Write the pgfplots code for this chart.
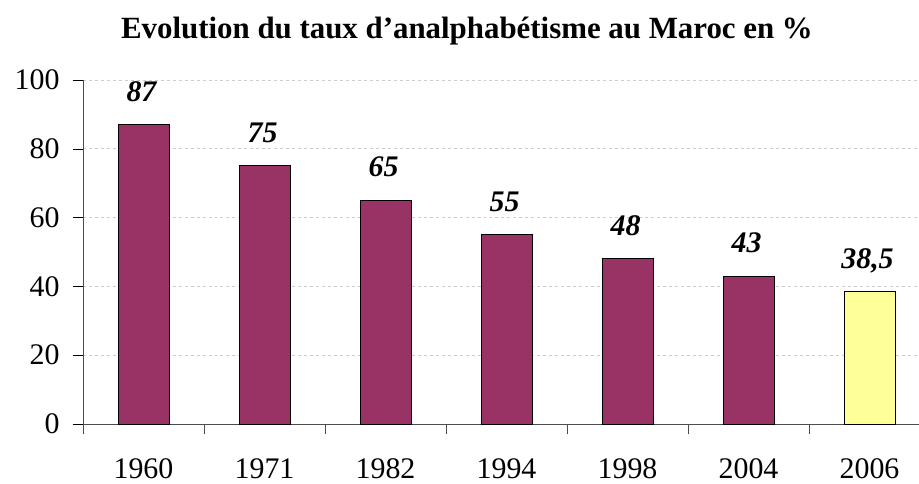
\documentclass[border=0pt]{standalone}
\usepackage{fontspec}
\setmainfont{Liberation Serif}
\usepackage{pgfplots}
\pgfplotsset{compat=1.18}
\definecolor{barpurple}{HTML}{993366}
\definecolor{baryellow}{HTML}{FFFF99}
\begin{document}
\begin{tikzpicture}
\useasboundingbox (-83bp,-60bp) rectangle (836bp,424bp);
\begin{axis}[
  at={(0,0)}, anchor=south west,
  scale only axis, width=836bp, height=344bp,
  xmin=-0.5, xmax=6.409, ymin=0, ymax=100,
  axis x line*=bottom, axis y line*=left,
  axis line style={-, black!70},
  ytick={0,20,...,100},
  ymajorgrids, grid style={dashed, black!20, line width=0.8pt},
  xtick={0,...,6},
  xticklabels={1960,1971,1982,1994,1998,2004,2006},
  major x tick style={draw=none},
  minor xtick={-0.5,0.5,...,5.5},
  minor x tick style={black!70},
  y tick style={black},
  tick align=outside,
  major tick length=10bp, minor tick length=10bp,
  tick label style={font=\fontsize{30}{30}\selectfont},
  xticklabel style={anchor=base, yshift=-44bp},
  yticklabel style={xshift=-10bp},
  /pgf/number format/assume math mode=true,
  bar width=51bp,
  ybar, bar shift=0pt,
  nodes near coords, point meta=explicit symbolic,
  every node near coord/.append style={anchor=base, xshift=-2bp, yshift=23.5bp, font=\fontsize{30}{30}\selectfont\bfseries\itshape},
  clip=false,
]
\addplot[fill=barpurple, draw=black, line width=1pt] coordinates {
  (0,87) [87] (1,75) [75] (2,65) [65] (3,55) [55] (4,48) [48] (5,43) [43]
};
\addplot[fill=baryellow, draw=black, line width=1pt] coordinates {
  (6,38.5) [{38,5}]
};
\end{axis}
\node[anchor=base, font=\fontsize{31}{31}\selectfont\bfseries] at (384bp,385bp) {Evolution du taux d’analphabétisme au Maroc en \%};
\end{tikzpicture}
\end{document}
